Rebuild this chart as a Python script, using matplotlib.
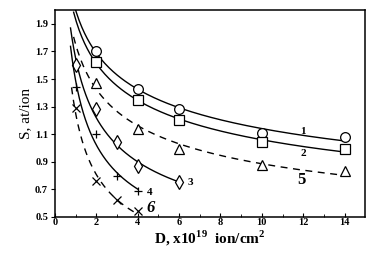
import numpy as np
import matplotlib.pyplot as plt

plt.rcParams['font.family'] = ['Liberation Serif', 'DejaVu Serif']

# dose D (x10^19 ion/cm^2) and sputtering yield S (at/ion)
d_1 = [2, 4, 6, 10, 14]
s_1 = [1.70, 1.43, 1.28, 1.11, 1.08]
d_2 = [2, 4, 6, 10, 14]
s_2 = [1.62, 1.35, 1.20, 1.04, 0.99]
d_5 = [2, 4, 6, 10, 14]
s_5 = [1.47, 1.14, 0.99, 0.88, 0.83]
d_3 = [1, 2, 3, 4, 6]
s_3 = [1.60, 1.28, 1.04, 0.87, 0.75]
d_4 = [1, 2, 3, 4]
s_4 = [1.44, 1.10, 0.80, 0.69]
d_6 = [1, 2, 3, 4]
s_6 = [1.29, 0.76, 0.62, 0.54]

series = [
    (d_1, s_1, 'o', '-', 0.9, 14),
    (d_2, s_2, 's', '-', 0.9, 14),
    (d_5, s_5, '^', '--', 0.9, 14),
    (d_3, s_3, 'd', '-', 0.75, 6),
    (d_4, s_4, '+', '-', 0.75, 4),
    (d_6, s_6, 'x', '--', 0.8, 4),
]

fig = plt.figure(figsize=(3.83, 2.58), dpi=100)
ax = fig.add_axes([0.1436, 0.159, 0.81, 0.802])

for d, s, mk, ls, d0, d1 in series:
    # power-law trend through the points
    p = np.polyfit(np.log(d), np.log(s), 1)
    dd = np.linspace(d0, d1, 200)
    ax.plot(dd, np.exp(np.polyval(p, np.log(dd))), color='black',
            ls=ls, lw=1.0, dashes=(5, 4) if ls == '--' else (None, None))
    ax.plot(d, s, ls='none', marker=mk, ms=7 if mk not in '+x' else 5.5,
            mfc='white', mec='black', mew=0.9, color='black')

# curve labels
ax.text(12.0, 1.12, '1', fontsize=8, fontweight='bold', ha='center', va='center')
ax.text(12.0, 0.96, '2', fontsize=8, fontweight='bold', ha='center', va='center')
ax.text(11.9, 0.77, '5', fontsize=12, fontweight='bold', ha='center', va='center')
ax.text(6.55, 0.75, '3', fontsize=8, fontweight='bold', ha='center', va='center')
ax.text(4.6, 0.68, '4', fontsize=8, fontweight='bold', ha='center', va='center')
ax.text(4.6, 0.565, '6', fontsize=12, fontweight='bold', style='italic',
        ha='center', va='center')

ax.set_xlim(0, 15)
ax.set_ylim(0.5, 2.0)
ax.set_xticks(np.arange(0, 15, 2))
ax.set_xticks(np.arange(1, 15, 2), minor=True)
ax.set_yticks(np.arange(0.5, 2.0, 0.2))
ax.set_yticklabels(['%.1f' % v for v in np.arange(0.5, 2.0, 0.2)])
ax.tick_params(axis='x', direction='in', length=3, labelsize=7.5, pad=1)
ax.tick_params(axis='x', which='minor', direction='in', length=2)
ax.tick_params(axis='y', direction='out', length=3, labelsize=7.5, pad=2)
for lab in ax.get_xticklabels() + ax.get_yticklabels():
    lab.set_fontweight('bold')
for sp in ax.spines.values():
    sp.set_linewidth(1.1)

ax.set_xlabel('D, x10$^{\\mathregular{19}}$  ion/cm$^{\\mathregular{2}}$',
              fontsize=11, fontweight='bold', labelpad=1)
ax.set_ylabel('S, at/ion', fontsize=11, labelpad=2)

fig.savefig('out.png', dpi=100)
